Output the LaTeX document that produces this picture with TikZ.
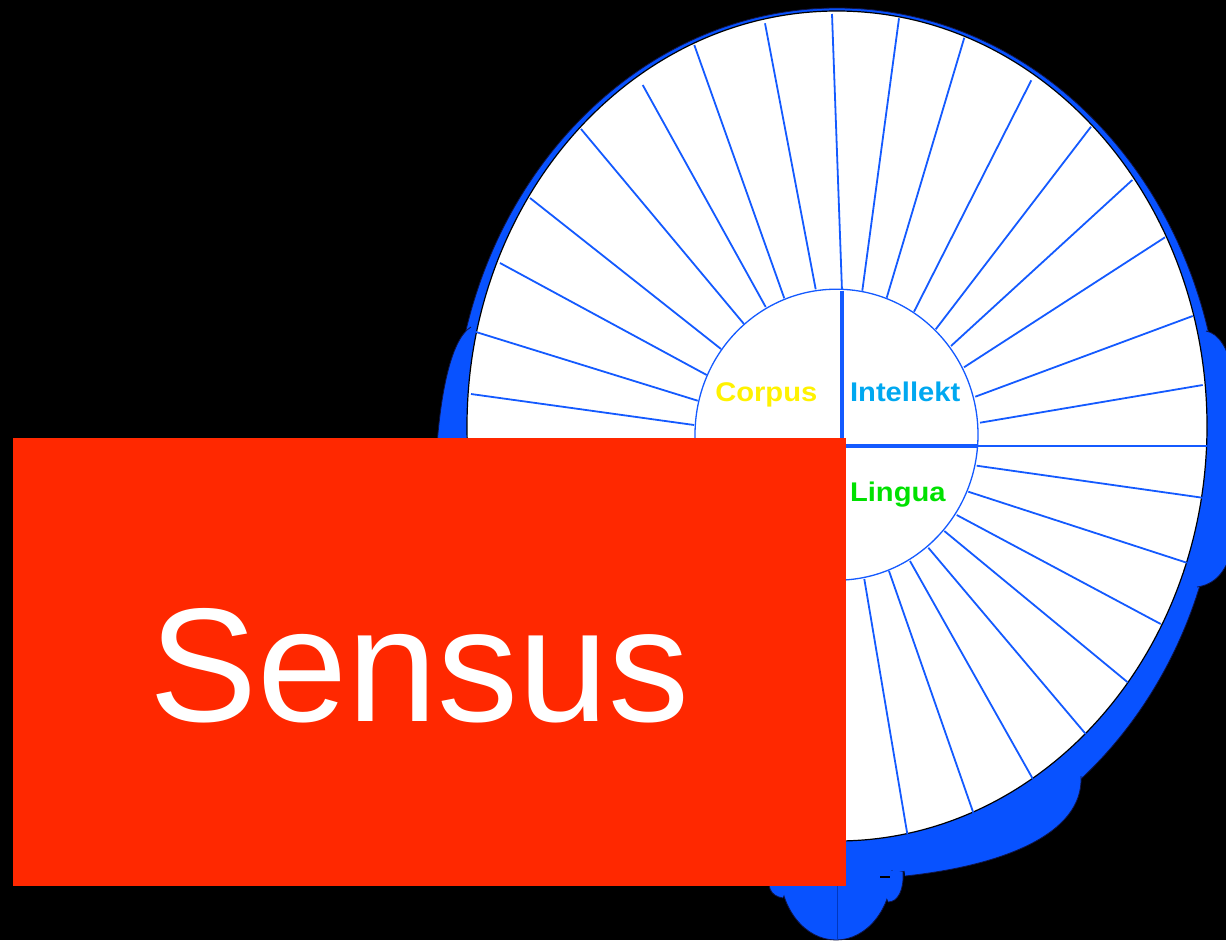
\documentclass[tikz,border=0pt]{standalone}
\usepackage{fontspec}
\setmainfont{Liberation Sans}
\definecolor{rimblue}{RGB}{8,82,255}
\definecolor{spokeblue}{RGB}{20,90,255}
\definecolor{sensred}{RGB}{255,40,0}
\definecolor{intblue}{RGB}{0,168,240}
\definecolor{lingreen}{RGB}{0,225,0}
\definecolor{blobedge}{RGB}{15,20,70}
\begin{document}
\begin{tikzpicture}[x=1pt,y=-1pt,
  blob/.style={fill=rimblue},
  blobline/.style={draw=blobedge,line width=0.8pt},
  spoke/.style={draw=spokeblue,line width=1.8pt},
  divider/.style={draw=spokeblue,line width=4pt},
  wlabel/.style={font=\bfseries\fontsize{27}{27}\selectfont,inner sep=0pt,anchor=base,xscale=1.08}]
\useasboundingbox (0,0) rectangle (1226,940);
\fill[black] (0,0) rectangle (1226,940);
% blue rim behind the wheel
\fill[blob] (837,443) ellipse [x radius=384,y radius=435];
\draw[blobline] (837,443) ellipse [x radius=384,y radius=435];
% left lobe
\fill[blob] (471,327) .. controls (452,338) and (440,390) .. (436,460) -- (470,470) -- (480,400) -- cycle;
\draw[blobline] (471,327) .. controls (452,338) and (440,390) .. (436,460);
% right lobe
\fill[blob] (1206,331) .. controls (1232,336) and (1240,390) .. (1240,455) .. controls (1240,540) and (1232,582) .. (1197,587) -- (1180,450) -- cycle;
\draw[blobline] (1206,331) .. controls (1232,336) and (1240,390) .. (1240,455) .. controls (1240,540) and (1232,582) .. (1197,587);
% lower right lobe
\fill[blob] (1081,776) .. controls (1084,835) and (1000,866) .. (905,876) -- (900,820) -- (1040,720) -- cycle;
\draw[blobline] (1081,776) .. controls (1084,835) and (1000,866) .. (905,876);
% bottom lobe
\fill[blob] (892,870) .. controls (892,908.7) and (866.9,940) .. (836,940) .. controls (805.1,940) and (780,908.7) .. (780,870) -- (836,800) -- cycle;
\draw[blobline] (892,870) .. controls (892,908.7) and (866.9,940) .. (836,940) .. controls (805.1,940) and (780,908.7) .. (780,870);
\draw[draw={rgb,255:red,0;green,55;blue,190},line width=0.6pt] (837,880) -- (837,940);
% small lobes
\fill[blob] (903,872) .. controls (904,890) and (898,902) .. (888,902) -- (880,870) -- cycle;
\draw[blobline] (903,872) .. controls (904,890) and (898,902) .. (888,902);
\fill[blob] (790,870) -- (771,872) .. controls (766,886) and (770,896) .. (783,898) -- cycle;
\draw[blobline] (771,872) .. controls (766,886) and (770,896) .. (783,898);
\draw[black,line width=1.2pt] (880,877) -- (890,877);
% wheel
\filldraw[fill=white,draw=black,line width=1.2pt] (837,426) ellipse [x radius=370,y radius=415];
\foreach \ax/\ay/\bx/\by in {
  694/425/471/394, 697.7/400.7/476/332, 706.7/375/500/263, 721/349/530/198,
  744/324/581/129, 765.7/307/642.7/85, 784.3/298.3/694.3/45, 815.7/289.3/765/23.3,
  842/291/832/14, 862.3/290.7/899/18.3, 886.7/297.7/964.3/37.7, 914/311.7/1031.3/80.3,
  935.7/329.3/1091/126.7, 951/346/1132.3/180, 964/367.3/1165/237.3, 975.3/396.7/1192.7/316,
  980/422.7/1202.7/385, 977/445.7/1206.7/445.7, 976.7/465.7/1202.3/497.7, 968.3/491.7/1186.7/562.7,
  956.7/515/1160.7/624, 944.3/531/1127.7/682.3, 928.3/547.7/1085.7/734, 910/561/1032.7/778.7,
  889/571/973.3/812.7, 864.3/579/907.3/834}
  \draw[spoke] (\ax,\ay) -- (\bx,\by);
\filldraw[fill=white,draw=spokeblue,line width=1.3pt] (836.5,434.7) ellipse [x radius=141.5,y radius=145.5];
\draw[divider] (842,291) -- (842,445.7) -- (977,445.7);
\node[wlabel,text=yellow] (corpus) at (766.3,401.7) {Corpus};
\node[wlabel,text=intblue] (intellekt) at (905.2,401.7) {Intellekt};
\node[wlabel,text=lingreen] (lingua) at (897.8,501.7) {Lingua};
% red card
\node[fill=sensred,inner sep=0pt,minimum width=833pt,minimum height=448pt,anchor=north west] (card) at (13,438) {};
\node[text=white,inner sep=0pt,anchor=base,font=\fontsize{162}{162}\selectfont] (sensus) at (419.5,721.7) {Sensus};
\end{tikzpicture}
\end{document}
